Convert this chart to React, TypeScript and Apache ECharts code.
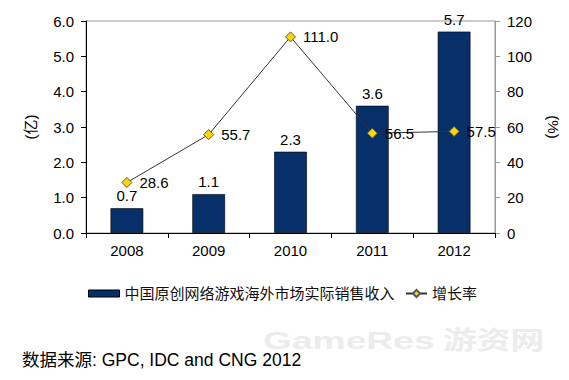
import React, { useEffect, useRef } from "react";
import * as echarts from "echarts";

const years = ["2008", "2009", "2010", "2011", "2012"];
const revenue = [0.7, 1.1, 2.3, 3.6, 5.7];
const growth = [28.6, 55.7, 111.0, 56.5, 57.5];
const barName = "中国原创网络游戏海外市场实际销售收入";
const lineName = "增长率";
const sourceText = "数据来源: GPC, IDC and CNG 2012";

const FONT = "Liberation Sans, Arial, Noto Sans CJK SC, sans-serif";
const BAR_COLOR = "#07306a";

export default function App() {
  const ref = useRef<HTMLDivElement>(null);
  useEffect(() => {
    const chart = echarts.init(ref.current!, null, { renderer: "svg" });
    chart.setOption({
      animation: false,
      backgroundColor: "#fff",
      textStyle: { fontFamily: FONT },
      grid: { left: 86, right: 72, top: 21, height: 212, show: true, borderColor: "#999", borderWidth: 1, backgroundColor: "transparent" },
      legend: [
        {
          left: 88,
          top: 286,
          padding: 0,
          itemWidth: 31,
          itemHeight: 7,
          itemGap: 5,
          textStyle: { fontSize: 15, color: "#111", fontFamily: FONT },
          data: [{ name: barName, icon: "rect", itemStyle: { color: BAR_COLOR, borderColor: "#000", borderWidth: 1 } }],
        },
        {
          left: 405,
          top: 286,
          padding: 0,
          itemWidth: 21,
          itemHeight: 9,
          textStyle: { fontSize: 15, color: "#111", fontFamily: FONT },
          data: [{ name: lineName }],
        },
      ],
      xAxis: {
        type: "category",
        data: years,
        axisLine: { lineStyle: { color: "#000", width: 1 } },
        axisTick: { show: true, length: 5, lineStyle: { color: "#000" } },
        axisLabel: { fontSize: 15, color: "#000", margin: 10 },
      },
      yAxis: [
        {
          type: "value",
          min: 0,
          max: 6,
          interval: 1,
          name: "(亿)",
          nameLocation: "middle",
          nameGap: 48,
          nameRotate: 90,
          nameTextStyle: { fontSize: 15, color: "#000" },
          axisLine: { show: true, lineStyle: { color: "#000" } },
          axisTick: { show: true, length: 5, lineStyle: { color: "#000" } },
          axisLabel: { fontSize: 15, color: "#000", formatter: (v: number) => v.toFixed(1), margin: 12 },
          splitLine: { show: false },
        },
        {
          type: "value",
          min: 0,
          max: 120,
          interval: 20,
          name: "(%)",
          nameLocation: "middle",
          nameGap: 51,
          nameRotate: -90,
          nameTextStyle: { fontSize: 15, color: "#000" },
          axisLine: { show: true, lineStyle: { color: "#999" } },
          axisTick: { show: true, length: 5, lineStyle: { color: "#999" } },
          axisLabel: { fontSize: 15, color: "#000", margin: 12 },
          splitLine: { show: false },
        },
      ],
      series: [
        {
          name: barName,
          type: "bar",
          data: revenue,
          barWidth: "40%",
          itemStyle: { color: BAR_COLOR, borderColor: "#000", borderWidth: 0.6 },
          label: { show: true, position: "top", fontSize: 15, color: "#000", distance: 5, formatter: (p: any) => p.value.toFixed(1) },
        },
        {
          name: lineName,
          type: "line",
          yAxisIndex: 1,
          data: growth,
          symbol: "diamond",
          symbolSize: 10,
          lineStyle: { color: "#333", width: 1 },
          itemStyle: { color: "#ffd700", borderColor: "#555", borderWidth: 1 },
          label: { show: true, position: "right", distance: 7, fontSize: 15, color: "#000", formatter: (p: any) => p.value.toFixed(1) },
          z: 5,
        },
      ],
      graphic: [
        {
          type: "text",
          x: 263,
          y: 329,
          scaleX: 1.55,
          style: { text: "GameRes", fontSize: 24, fontWeight: "bold", fill: "#ececec", align: "left", verticalAlign: "top", fontFamily: FONT },
          z: 0,
        },
        {
          type: "text",
          x: 443,
          y: 326,
          scaleX: 1.35,
          style: { text: "游资网", fontSize: 25, fontWeight: "bold", fill: "#ececec", align: "left", verticalAlign: "top", fontFamily: "Noto Sans CJK SC" },
          z: 0,
        },
        {
          type: "text",
          left: 22,
          top: 351,
          style: { text: sourceText, fontSize: 17.5, fill: "#000", fontFamily: FONT },
          z: 10,
        },
      ],
    });
    return () => chart.dispose();
  }, []);
  return <div ref={ref} style={{ width: 569, height: 380, position: "absolute", left: 0, top: 0 }} />;
}
